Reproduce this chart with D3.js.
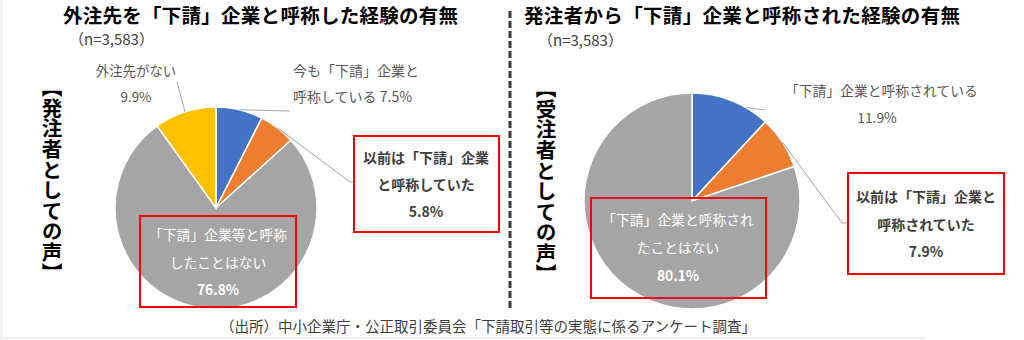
<!DOCTYPE html>
<html>
<head>
<meta charset="utf-8">
<script src="https://cdn.jsdelivr.net/npm/d3@7"></script>
<style>
  body { margin: 0; background: #fff; }
  svg { display: block; font-family: "Noto Sans CJK JP", "Noto Sans", sans-serif; }
</style>
</head>
<body>
<svg width="1024" height="340"></svg>
<script>
// data
const leftTitle = "外注先を「下請」企業と呼称した経験の有無";
const rightTitle = "発注者から「下請」企業と呼称された経験の有無";
const sampleLabel = "（n=3,583）";
const leftSide = "【発注者としての声】";
const rightSide = "【受注者としての声】";
const source = "（出所）中小企業庁・公正取引委員会「下請取引等の実態に係るアンケート調査」";

const leftCategories = ["今も「下請」企業と呼称している", "以前は「下請」企業と呼称していた", "「下請」企業等と呼称したことはない", "外注先がない"];
const leftValues = [7.5, 5.8, 76.8, 9.9];
const rightCategories = ["「下請」企業と呼称されている", "以前は「下請」企業と呼称されていた", "「下請」企業と呼称されたことはない"];
const rightValues = [11.9, 7.9, 80.1];
const sliceColors = ["#4472C4", "#ED7D31", "#A5A5A5", "#FFC000"];

const svg = d3.select("svg");
const fmt = d => d.toFixed(1) + "%";

// faint frame edges of the original image
svg.append("rect").attr("x", 0).attr("y", 0).attr("width", 3).attr("height", 340).attr("fill", "#f2f2f2");
svg.append("rect").attr("x", 0).attr("y", 337).attr("width", 925).attr("height", 2).attr("fill", "#f0f0f0");

// titles
svg.append("text").attr("x", 63).attr("y", 22.5).attr("font-size", 19.5).attr("font-weight", "bold")
  .attr("fill", "#000").attr("textLength", 395).attr("lengthAdjust", "spacing").text(leftTitle);
svg.append("text").attr("x", 524).attr("y", 22.5).attr("font-size", 19.5).attr("font-weight", "bold")
  .attr("fill", "#000").attr("textLength", 436).attr("lengthAdjust", "spacing").text(rightTitle);
svg.append("text").attr("x", 69).attr("y", 45).attr("font-size", 15).attr("fill", "#404040").text(sampleLabel);
svg.append("text").attr("x", 538).attr("y", 46).attr("font-size", 15).attr("fill", "#404040").text(sampleLabel);

// vertical side labels
function sideLabel(x, y, txt) {
  svg.append("text").attr("x", x).attr("y", y)
    .style("writing-mode", "vertical-rl")
    .attr("font-size", 20.6).attr("font-weight", "bold").attr("fill", "#000")
    .text(txt);
}
sideLabel(52, 77, leftSide);
sideLabel(546, 78, rightSide);

// dashed divider
svg.append("line").attr("x1", 510).attr("x2", 510).attr("y1", 11).attr("y2", 308)
  .attr("stroke", "#3a3a3a").attr("stroke-width", 3).attr("stroke-dasharray", "7,3");

function drawPie(values, cx, cy, r) {
  const arcs = d3.pie().sort(null)(values);
  const arc = d3.arc().innerRadius(0).outerRadius(r);
  const g = svg.append("g").attr("transform", `translate(${cx},${cy})`);
  g.selectAll("path").data(arcs).join("path")
    .attr("d", arc)
    .attr("fill", (d, i) => sliceColors[i])
    .attr("stroke", "#fff").attr("stroke-width", 1.5);
  // point on the outer edge, t = fraction through the slice
  return function (i, t) {
    const a = arcs[i].startAngle + (arcs[i].endAngle - arcs[i].startAngle) * t;
    return [cx + r * Math.sin(a), cy - r * Math.cos(a)];
  };
}

function leader(p, pts) {
  svg.append("path")
    .attr("d", d3.line()([p].concat(pts)))
    .attr("fill", "none").attr("stroke", "#a6a6a6").attr("stroke-width", 1);
}

function textLines(x, y, lines, opts) {
  const t = svg.append("text").attr("x", x).attr("text-anchor", opts.anchor || "middle")
    .attr("font-size", opts.size || 13.5).attr("fill", opts.color);
  lines.forEach((ln, k) => {
    t.append("tspan").attr("x", x).attr("y", y + k * opts.step)
      .attr("font-weight", ln.bold ? "bold" : (opts.weight || "normal"))
      .text(ln.text);
  });
}

function redBox(x, y, w, h) {
  svg.append("rect").attr("x", x).attr("y", y).attr("width", w).attr("height", h)
    .attr("fill", "none").attr("stroke", "#ff0000").attr("stroke-width", 2);
}

// left pie
const lp = drawPie(leftValues, 216, 208, 101);
leader(lp(0, 0.5), [[290, 111]]);
leader(lp(1, 0.5), [[350, 182], [354, 182]]);
leader(lp(3, 0.5), [[177, 82]]);

textLines(293, 76, [{ text: "今も「下請」企業と" }, { text: "呼称している " + fmt(leftValues[0]) }],
  { anchor: "start", step: 26, color: "#595959", size: 14 });
textLines(136, 76, [{ text: "外注先がない" }, { text: fmt(leftValues[3]) }],
  { step: 26, color: "#595959", size: 13.4 });

redBox(354, 136, 145, 96);
textLines(426, 163, [{ text: "以前は「下請」企業", bold: true }, { text: "と呼称していた", bold: true },
  { text: fmt(leftValues[1]), bold: true }], { step: 27, color: "#404040", size: 14 });

redBox(140, 216, 156, 91);
textLines(218, 240, [{ text: "「下請」企業等と呼称" }, { text: "したことはない" },
  { text: fmt(leftValues[2]), bold: true }], { step: 27.5, color: "#fff", size: 13.8 });

// right pie
const rp = drawPie(rightValues, 692, 201, 108);
leader(rp(0, 0.7), [[765, 110]]);
leader(rp(1, 0.5), [[842, 223], [848, 223]]);

textLines(785, 96, [{ text: "「下請」企業と呼称されている" }], { anchor: "start", step: 26, color: "#595959", size: 13.8 });
textLines(877, 123, [{ text: fmt(rightValues[0]) }], { step: 26, color: "#595959", size: 13.8 });

redBox(848, 173, 156, 101);
textLines(926, 202, [{ text: "以前は「下請」企業と", bold: true }, { text: "呼称されていた", bold: true },
  { text: fmt(rightValues[1]), bold: true }], { step: 27.5, color: "#404040", size: 14 });

redBox(591, 198, 175, 100);
textLines(678, 225, [{ text: "「下請」企業と呼称され" }, { text: "たことはない" },
  { text: fmt(rightValues[2]), bold: true }], { step: 28, color: "#fff", size: 13.8 });

// source note
svg.append("text").attr("x", 220).attr("y", 332).attr("font-size", 14.5).attr("fill", "#404040").text(source);
</script>
</body>
</html>
